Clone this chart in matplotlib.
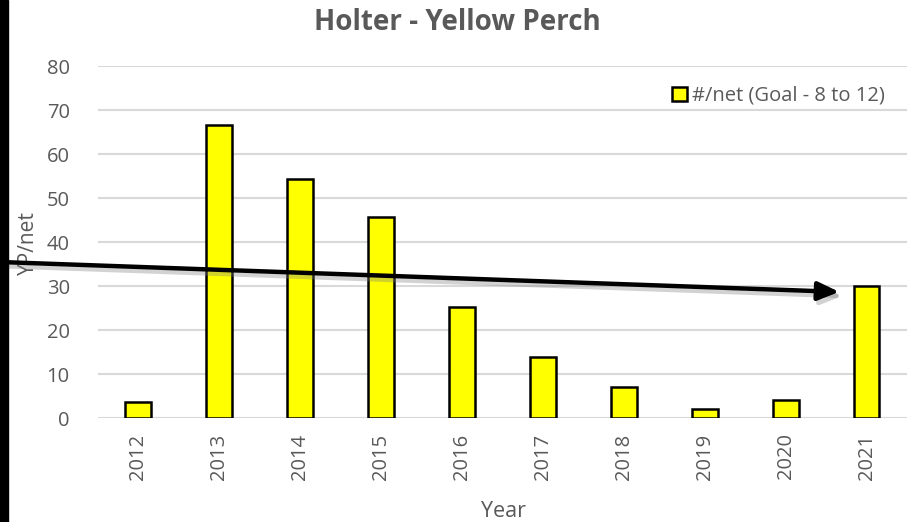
import matplotlib
matplotlib.use("Agg")
import matplotlib.pyplot as plt
from matplotlib.patches import Rectangle, FancyArrowPatch
import matplotlib.patheffects as pe

years = ["2012", "2013", "2014", "2015", "2016", "2017", "2018", "2019", "2020", "2021"]
per_net = [3.6, 66.6, 54.3, 45.7, 25.2, 13.9, 7.0, 2.0, 4.1, 30.0]
yticks = [0, 10, 20, 30, 40, 50, 60, 70, 80]
legend_label = "#/net (Goal - 8 to 12)"

gray = "#595959"
plt.rcParams['font.family'] = ['Open Sans', 'DejaVu Sans']

fig = plt.figure(figsize=(9.07, 5.22), dpi=100)
ax = fig.add_axes([0.1075, 0.199, 0.8925, 0.6745])

x = list(range(len(years)))
ax.bar(x, per_net, width=0.32, color="#FFFF00", edgecolor="black", linewidth=1.8,
       label=legend_label, zorder=3)

ax.set_xlim(-0.5, len(years) - 0.5)
ax.set_ylim(0, 80)
ax.set_yticks(yticks)
ax.set_xticks(x)
ax.set_xticklabels(years, rotation=90)
ax.tick_params(axis='both', length=0, colors=gray, labelsize=14.5)
ax.tick_params(axis='y', pad=20)
ax.tick_params(axis='x', pad=11)
for s in ax.spines.values():
    s.set_visible(False)
ax.grid(axis='y', color="#d9d9d9", linewidth=1.5, zorder=0)
ax.set_axisbelow(True)

ax.set_ylabel("YP/net", color=gray, fontsize=15)
ax.set_xlabel("Year", color=gray, fontsize=15.5)
ax.xaxis.set_label_coords(0.501, -0.235)
ax.yaxis.set_label_coords(-0.072, 0.497)

fig.text(0.504, 0.957, "Holter - Yellow Perch", ha="center", va="center",
         fontsize=20, fontweight="bold", color=gray)

leg = ax.legend(loc="upper right", bbox_to_anchor=(0.995, 0.995), frameon=False,
                fontsize=14.5, handlelength=0.75, handleheight=0.75, handletextpad=0.25)
for t in leg.get_texts():
    t.set_color(gray)

# black left border
fig.patches.append(Rectangle((0, 0), 8 / 907, 1, transform=fig.transFigure,
                             color="black", zorder=10))

# trend arrow overlay
fig.add_artist(FancyArrowPatch(
    (0 / 907, 1 - 262 / 522), (842 / 907, 1 - 292 / 522),
    transform=fig.transFigure, arrowstyle="-|>,head_length=8,head_width=3.5",
    mutation_scale=1.6, color="black", linewidth=3.2, zorder=9,
    path_effects=[pe.SimpleLineShadow(offset=(2, -3), shadow_color="gray", alpha=0.35),
                  pe.Normal()]))

fig.savefig("out.png", dpi=100)
